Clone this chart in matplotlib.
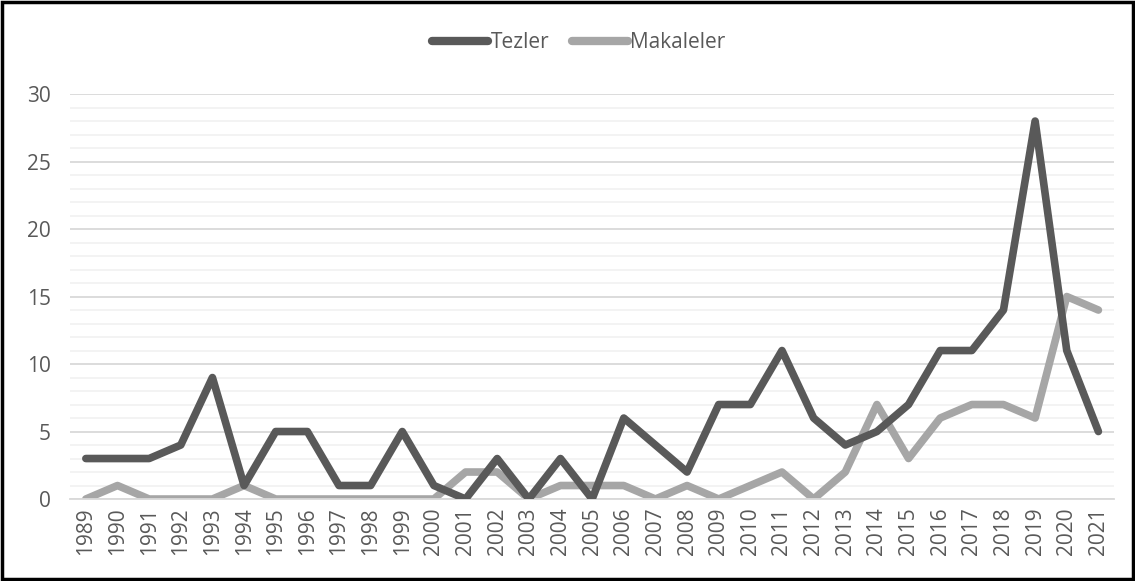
import matplotlib.pyplot as plt
from matplotlib.patches import Rectangle
from matplotlib.ticker import MultipleLocator

years = [str(y) for y in range(1989, 2022)]
tezler = [3, 3, 3, 4, 9, 1, 5, 5, 1, 1, 5, 1, 0, 3, 0, 3, 0, 6, 4, 2, 7, 7, 11, 6, 4, 5, 7, 11, 11, 14, 28, 11, 5]
makaleler = [0, 1, 0, 0, 0, 1, 0, 0, 0, 0, 0, 0, 2, 2, 0, 1, 1, 1, 0, 1, 0, 1, 2, 0, 2, 7, 3, 6, 7, 7, 6, 15, 14]

plt.rcParams['font.family'] = ['Open Sans', 'DejaVu Sans']

fig = plt.figure(figsize=(11.35, 5.81), dpi=100)
ax = fig.add_axes([0.0617, 0.1411, 0.92, 0.697])

x = range(len(years))
ax.plot(x, tezler, color='#595959', lw=5.5, solid_capstyle='round', solid_joinstyle='round', label='Tezler', zorder=3)
ax.plot(x, makaleler, color='#A6A6A6', lw=5.5, solid_capstyle='round', solid_joinstyle='round', label='Makaleler', zorder=2)

ax.set_xlim(-0.5, len(years) - 0.5)
ax.set_ylim(0, 30)
ax.set_xticks(list(x))
ax.set_xticklabels(years, rotation=90, fontsize=15, color='#595959')
ax.yaxis.set_major_locator(MultipleLocator(5))
ax.yaxis.set_minor_locator(MultipleLocator(1))
ax.tick_params(axis='y', labelsize=15, labelcolor='#595959', length=0, pad=14, which='both')
ax.tick_params(axis='x', length=0, pad=6)
ax.grid(True, which='major', axis='y', color='#D9D9D9', lw=1.3, zorder=0)
ax.grid(True, which='minor', axis='y', color='#F2F2F2', lw=1.3, zorder=0)
ax.set_axisbelow(True)
for s in ['top', 'right', 'left']:
    ax.spines[s].set_visible(False)
ax.spines['bottom'].set_color('#D9D9D9')
ax.spines['bottom'].set_linewidth(1.3)

leg = fig.legend(loc='center', bbox_to_anchor=(0.51, 0.926), ncol=2, frameon=False,
                 fontsize=15, handlelength=2.7, handletextpad=0.1, columnspacing=1.1)
for t in leg.get_texts():
    t.set_color('#595959')
for h in leg.legend_handles:
    h.set_linewidth(6)

fig.patches.append(Rectangle((0.002, 0.003), 0.996, 0.994, transform=fig.transFigure,
                             fill=False, edgecolor='black', lw=2.5))

fig.savefig('out.png', dpi=100)
